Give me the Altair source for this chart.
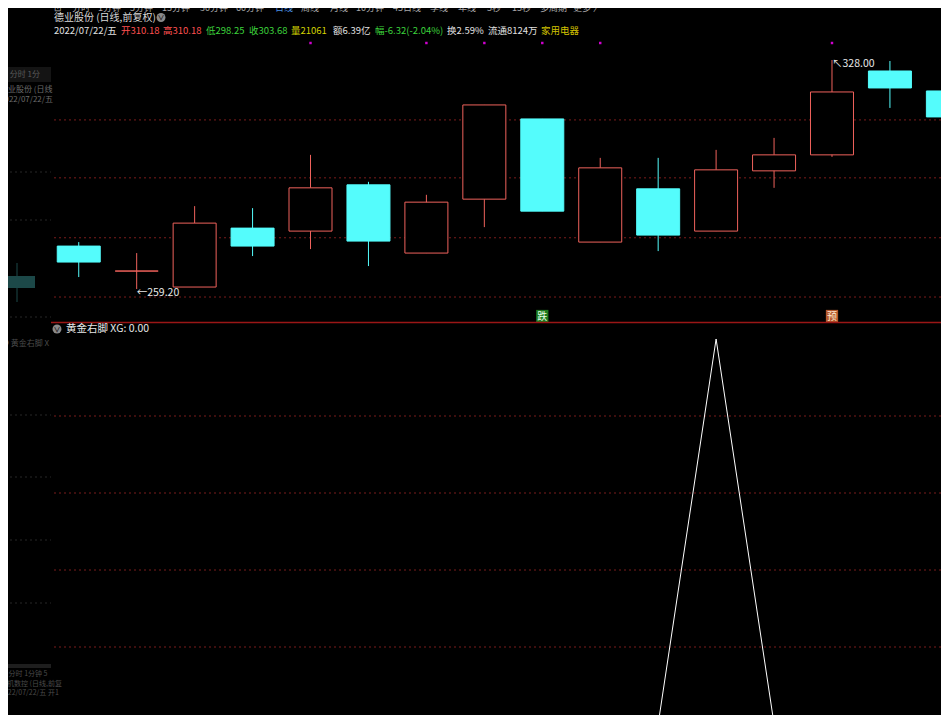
import altair as alt
import pandas as pd
import numpy as np

# ---------------- data ----------------
idx = list(range(16))
opens  = [272.1, 264.6, 259.8, 277.5, 276.6, 290.5, 270.0, 286.2, 310.3, 273.3, 289.3, 276.6, 294.7, 299.5, 324.7, 318.7]
closes = [267.3, 264.6, 279.0, 272.1, 289.6, 273.6, 285.3, 314.5, 282.6, 295.6, 275.4, 295.0, 299.5, 318.4, 319.6, 310.9]
highs  = [273.3, 270.0, 284.1, 283.5, 299.5, 291.4, 287.5, 314.5, 310.3, 298.6, 298.6, 301.0, 304.6, 328.0, 327.7, 318.7]
lows   = [262.8, 259.2, 259.8, 269.1, 271.2, 266.1, 270.0, 277.8, 282.6, 273.3, 270.6, 276.6, 289.6, 298.9, 313.6, 310.9]
xg     = [0, 0, 0, 0, 0, 0, 0, 0, 0, 0, 0, 1, 0, 0, 0, 0]
signal_dots = [4, 6, 7, 8, 9, 13]
sig_idx = [8, 13]
sig_text = ["跌", "预"]
sig_kind = ["down", "pre"]
ann_idx = [1, 13]
ann_price = [259.2, 328.0]
ann_text = ["←259.20", "↖328.00"]
grid_price = [310.0, 292.6, 274.6, 256.8]
grid_xg = [0.2, 0.4, 0.6, 0.8]

toolbar = ["⊡", "分时", "1分钟", "5分钟", "15分钟", "30分钟", "60分钟", "日线", "周线", "月线",
           "10分钟", "45日线", "季线", "年线", "5秒", "15秒", "多周期", "更多 〉"]
header2 = ["2022/07/22/五", "开310.18", "高310.18", "低298.25", "收303.68", "量21061",
           "额6.39亿", "幅-6.32(-2.04%)", "换2.59%", "流通8124万", "家用电器"]

# ---------------- layout / style ----------------
FONT = "Noto Sans CJK SC"
RED = "#ef625c"
CYAN = "#54fcfc"
GRID = "#7a1c1c"
OX, OY = 51, 40          # page position of the plot origin
W, H = 890, 675          # plot area (page 51..941, 40..715) so that page fits the window
XDOM = [-0.3925, 14.795]
PDOM = [131.24, 334.008]
XGDOM = [0.0234, 1.7766]

toolbar_x = [54, 72, 98, 130, 162, 200, 236, 275, 301, 330, 356, 393, 430, 458, 487, 512, 540, 573]
header2_x = [54, 121, 163, 206, 249, 291, 333, 375, 447, 488, 541]
header2_c = ["#e0e0e0", "#ff5050", "#ff5050", "#3cd23c", "#3cd23c", "#d2d200",
             "#e0e0e0", "#3cd23c", "#e0e0e0", "#e0e0e0", "#d0c000"]

X = alt.X("i:Q", scale=alt.Scale(domain=XDOM), axis=None)


def YP(f):
    return alt.Y(f"{f}:Q", scale=alt.Scale(domain=PDOM), axis=None)


def YX(f):
    return alt.Y(f"{f}:Q", scale=alt.Scale(domain=XGDOM), axis=None)


one = pd.DataFrame({"a": [0]})


def txt(s, x, y, color, size=10.5, align="left", baseline="middle", weight="normal"):
    return alt.Chart(pd.DataFrame({"t": [s]})).mark_text(
        align=align, baseline=baseline, color=color, fontSize=size, font=FONT, fontWeight=weight
    ).encode(text="t:N", x=alt.value(x - OX), y=alt.value(y - OY))


def box(x1, y1, x2, y2, color):
    return alt.Chart(one).mark_rect(color=color).encode(
        x=alt.value(x1 - OX), x2=alt.value(x2 - OX), y=alt.value(y1 - OY), y2=alt.value(y2 - OY))


def hline(y, x1, x2, color, dash=None, width=1.0):
    kw = dict(color=color, strokeWidth=width)
    if dash:
        kw["strokeDash"] = dash
    return alt.Chart(one).mark_rule(**kw).encode(
        x=alt.value(x1 - OX), x2=alt.value(x2 - OX), y=alt.value(y - OY))


def vline(x, y1, y2, color, width=1.0):
    return alt.Chart(one).mark_rule(color=color, strokeWidth=width).encode(
        x=alt.value(x - OX), y=alt.value(y1 - OY), y2=alt.value(y2 - OY))


def icon(x, y):
    c = alt.Chart(one).mark_circle(size=80, color="#8a8a8a", opacity=1).encode(
        x=alt.value(x - OX), y=alt.value(y - OY))
    return c + txt("∨", x, y + 0.5, "#1a1a1a", size=7, align="center", weight="bold")


# ---------------- chart data frames ----------------
df = pd.DataFrame({"i": idx, "open": opens, "close": closes, "high": highs, "low": lows})
df["dir"] = np.where(df["close"] >= df["open"], "up", "down")
dirscale_line = alt.Scale(domain=["up", "down"], range=[RED, CYAN])
dirscale_fill = alt.Scale(domain=["up", "down"], range=["#000000", CYAN])

grid_top = alt.Chart(pd.DataFrame({"p": grid_price})).mark_rule(
    color=GRID, strokeDash=[2, 3], strokeWidth=1).encode(y=YP("p"))
grid_bot = alt.Chart(pd.DataFrame({"g": grid_xg})).mark_rule(
    color=GRID, strokeDash=[2, 3], strokeWidth=1).encode(y=YX("g"))

wicks = alt.Chart(df).mark_rule(clip=True, strokeWidth=1).encode(
    x=X, y=YP("low"), y2="high:Q",
    stroke=alt.Stroke("dir:N", scale=dirscale_line, legend=None))

bodies = alt.Chart(df).mark_bar(clip=True, size=43, strokeWidth=1).encode(
    x=X, y=YP("open"), y2="close:Q",
    fill=alt.Fill("dir:N", scale=dirscale_fill, legend=None),
    stroke=alt.Stroke("dir:N", scale=dirscale_line, legend=None))

dots = alt.Chart(pd.DataFrame({"i": signal_dots})).mark_square(
    size=6, color="#d000d0", opacity=1).encode(x=X, y=alt.value(43 - OY))

sig_df = pd.DataFrame({"i": sig_idx, "t": sig_text, "kind": sig_kind})
sig_layers = []
for kind, bg, fg in [("down", "#1d7a1d", "#e6ffe6"), ("pre", "#b4582c", "#ffe8d0")]:
    base = alt.Chart(sig_df).transform_filter(alt.datum.kind == kind)
    sig_layers.append(base.mark_square(size=150, opacity=1, color=bg).encode(
        x=X, y=alt.value(316 - OY)))
    sig_layers.append(base.mark_text(font=FONT, fontSize=10, baseline="middle", align="center",
                                     color=fg).encode(x=X, y=alt.value(316.5 - OY), text="t:N"))

ann = alt.Chart(pd.DataFrame({"i": ann_idx, "p": ann_price, "t": ann_text})).mark_text(
    font=FONT, fontSize=10.5, color="#e8e8e8", align="left", baseline="middle", dx=0, dy=3.5).encode(
    x=X, y=YP("p"), text="t:N")

xg_line = alt.Chart(pd.DataFrame({"i": idx, "xg": xg})).mark_line(
    color="#ffffff", strokeWidth=1, clip=True).encode(x=X, y=YX("xg"))

# ---------------- decorations ----------------
deco = []
# ghost window on the left
deco.append(box(0, 67, 51, 82, "#141414"))
deco.append(txt("⊡  分时  1分", 1, 75, "#5a5a5a", size=8))
deco.append(txt("德业股份 (日线", 0, 90, "#6a6a6a", size=8))
deco.append(txt("2022/07/22/五", 0, 100, "#6a6a6a", size=8))
for gy in [172, 220, 317, 415, 477, 540, 603]:
    deco.append(hline(gy, 0, 51, "#262626", dash=[2, 3]))
deco.append(vline(17, 263, 302, "#1c4848"))
deco.append(box(0, 276, 35, 288, "#1c4848"))
deco.append(txt("● 黄金右脚  X", 1, 344, "#4a4a4a", size=8))
deco.append(box(0, 664, 51, 668, "#1e1e1e"))
deco.append(txt("⊡  分时  1分钟  5", 1, 674, "#4a4a4a", size=7))
deco.append(txt("上机数控 (日线,前复", 0, 684, "#4a4a4a", size=7))
deco.append(txt("2022/07/22/五 开1", 0, 693, "#4a4a4a", size=7))
# toolbar (partly cut off at the top, as in the screenshot)
for t, x in zip(toolbar, toolbar_x):
    deco.append(txt(t, x, 11, "#4a90e2" if t == "日线" else "#a8a8a8", size=9, baseline="alphabetic"))
# header
deco.append(txt("德业股份 (日线,前复权)", 54, 17.5, "#d8d8d8", size=10))
deco.append(icon(161, 17.5))
for t, x, c in zip(header2, header2_x, header2_c):
    deco.append(txt(t, x, 31, c, size=9.5))
# separator
deco.append(hline(322.5, 51, 941, "#9a1616", width=1.5))
# lower panel title
deco.append(icon(57, 329))
deco.append(txt("黄金右脚  XG: 0.00", 66, 329, "#e8e8e8", size=10.5))

layers = [grid_top, grid_bot, wicks, bodies, dots] + sig_layers + [ann, xg_line] + deco

chart = alt.layer(*layers).resolve_scale(y="independent").properties(
    width=W, height=H,
    padding={"left": 43, "top": 32, "right": 0, "bottom": 0},
    autosize=alt.AutoSizeParams(type="none"),
    background="#000000",
).configure_view(stroke=None)

chart.save("out.html", embed_options={"renderer": "svg", "actions": False})
